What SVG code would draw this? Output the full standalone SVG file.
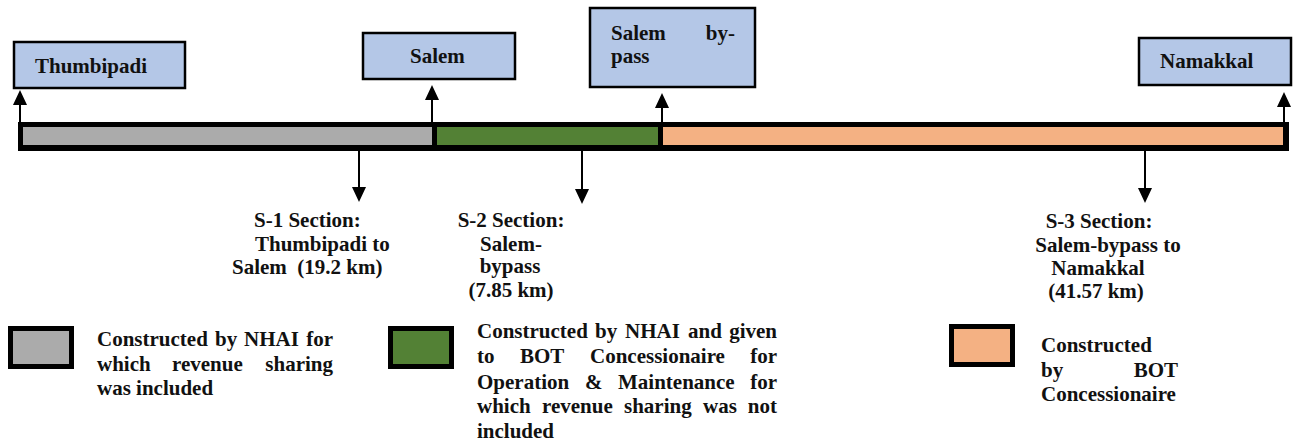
<svg xmlns="http://www.w3.org/2000/svg" width="1297" height="443" viewBox="0 0 1297 443">
<defs>
<marker id="ah" viewBox="0 0 15 14" refX="11" refY="7" markerWidth="15" markerHeight="14" markerUnits="userSpaceOnUse" orient="auto">
<path d="M0,0 L15,7 L0,14 z" fill="#000"/>
</marker>
<style>
text{font-family:"Liberation Serif","Times New Roman",serif;font-weight:bold;font-size:21px;fill:#111}
.box{fill:#B4C7E7;stroke:#000;stroke-width:2.5}
.conn{stroke:#000;stroke-width:2;fill:none;marker-end:url(#ah)}
.gray{fill:#ABABAB}.green{fill:#538135}.orange{fill:#F4B183}
.e{text-anchor:end}
</style>
</defs>
<g id="bar">
<rect x="18" y="122" width="1271" height="29" fill="#000"/>
<rect class="gray" x="23" y="127" width="409" height="18"/>
<rect class="green" x="437" y="127" width="221" height="18"/>
<rect class="orange" x="663" y="127" width="620" height="18"/>
</g>
<g id="node-thumbipadi"><rect class="box" x="14" y="42" width="171" height="46"/><text x="35" y="73">Thumbipadi</text></g>
<g id="node-salem"><rect class="box" x="363" y="33" width="152" height="46"/><text x="410" y="63">Salem</text></g>
<g id="node-bypass"><rect class="box" x="590" y="8" width="165" height="79"/><text x="611" y="40">Salem</text><text class="e" x="735" y="40">by-</text><text x="611" y="63">pass</text></g>
<g id="node-namakkal"><rect class="box" x="1139" y="38" width="152" height="47"/><text x="1160" y="68">Namakkal</text></g>
<g id="connectors">
<line class="conn" x1="20" y1="122" x2="20" y2="94"/>
<line class="conn" x1="432" y1="122" x2="432" y2="89"/>
<line class="conn" x1="662" y1="122" x2="662" y2="97"/>
<line class="conn" x1="1284" y1="122" x2="1284" y2="96"/>
<line class="conn" x1="359" y1="151" x2="359" y2="198"/>
<line class="conn" x1="582" y1="151" x2="582" y2="200"/>
<line class="conn" x1="1145" y1="151" x2="1145" y2="199"/>
</g>
<g id="label-s1">
<text x="254" y="227">S-1 Section:</text>
<text x="255" y="251">Thumbipadi to</text>
<text x="232" y="274" xml:space="preserve">Salem  (19.2 km)</text>
</g>
<g id="label-s2" text-anchor="middle">
<text x="511" y="227">S-2 Section:</text>
<text x="511" y="251">Salem-</text>
<text x="510" y="273">bypass</text>
<text x="511" y="297">(7.85 km)</text>
</g>
<g id="label-s3" text-anchor="middle">
<text x="1099" y="228">S-3 Section:</text>
<text x="1108" y="252">Salem-bypass to</text>
<text x="1098" y="275">Namakkal</text>
<text x="1096" y="298">(41.57 km)</text>
</g>
<g id="legend-gray">
<rect x="8" y="326" width="66" height="43" fill="#000"/>
<rect class="gray" x="13" y="331" width="56" height="33"/>
<text x="97" y="346">Constructed</text><text x="215" y="346">by</text><text x="244" y="346">NHAI</text><text class="e" x="333" y="346">for</text>
<text x="97" y="371">which</text><text x="172" y="371">revenue</text><text class="e" x="333" y="371">sharing</text>
<text x="97" y="395">was included</text>
</g>
<g id="legend-green">
<rect x="388" y="326" width="66" height="43" fill="#000"/>
<rect class="green" x="393" y="331" width="56" height="33"/>
<text x="477" y="338">Constructed</text><text x="595" y="338">by</text><text x="625" y="338">NHAI</text><text x="688" y="338">and</text><text class="e" x="777" y="338">given</text>
<text x="477" y="363">to</text><text x="520" y="363">BOT</text><text x="590" y="363">Concessionaire</text><text class="e" x="777" y="363">for</text>
<text x="477" y="389">Operation</text><text x="585" y="389">&amp;</text><text x="618" y="389">Maintenance</text><text class="e" x="777" y="389">for</text>
<text x="477" y="413">which</text><text x="542" y="413">revenue</text><text x="624" y="413">sharing</text><text x="703" y="413">was</text><text class="e" x="777" y="413">not</text>
<text x="477" y="438">included</text>
</g>
<g id="legend-orange">
<rect x="949" y="324" width="66" height="43" fill="#000"/>
<rect class="orange" x="954" y="329" width="56" height="33"/>
<text x="1041" y="352">Constructed</text>
<text x="1041" y="377">by</text><text class="e" x="1178" y="377">BOT</text>
<text x="1041" y="401">Concessionaire</text>
</g>
</svg>
